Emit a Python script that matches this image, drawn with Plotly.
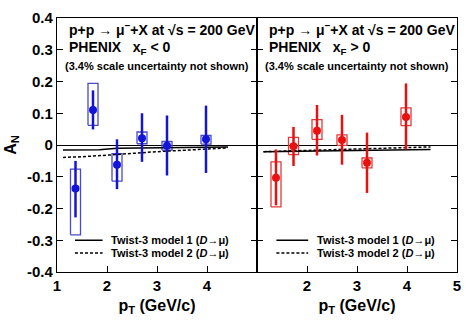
import plotly.graph_objects as go
from plotly.subplots import make_subplots

# ---- data: x_F < 0 (left panel) ----
pt_neg = [1.37, 1.72, 2.2, 2.7, 3.2, 3.98]
an_neg = [-0.137, 0.110, -0.062, 0.021, -0.002, 0.018]
stat_hi_neg = [-0.050, 0.172, 0.018, 0.100, 0.093, 0.124]
stat_lo_neg = [-0.228, 0.049, -0.139, -0.053, -0.096, -0.088]
sys_hi_neg = [-0.076, 0.194, -0.027, 0.041, 0.011, 0.030]
sys_lo_neg = [-0.283, 0.062, -0.114, 0.004, -0.016, 0.003]

# ---- data: x_F > 0 (right panel) ----
pt_pos = [1.38, 1.73, 2.2, 2.7, 3.2, 3.98]
an_pos = [-0.103, -0.004, 0.045, 0.016, -0.056, 0.088]
stat_hi_pos = [-0.014, 0.057, 0.126, 0.095, 0.039, 0.194]
stat_lo_pos = [-0.190, -0.066, -0.033, -0.062, -0.151, -0.014]
sys_hi_pos = [-0.053, 0.024, 0.080, 0.032, -0.041, 0.117]
sys_lo_pos = [-0.195, -0.030, 0.018, -0.001, -0.072, 0.061]

sys_halfwidth = 0.1

# ---- twist-3 model curves ----
m1_neg_x = [1.12, 1.5, 1.85, 2.2, 3.0, 3.7, 4.42]
m1_neg_y = [-0.016, -0.016, -0.015, -0.010, -0.008, -0.007, -0.006]
m2_neg_x = [1.12, 1.5, 2.0, 2.5, 3.0, 3.5, 4.0, 4.42]
m2_neg_y = [-0.039, -0.037, -0.032, -0.026, -0.021, -0.017, -0.013, -0.009]
m1_pos_x = [1.13, 2.0, 3.0, 4.0, 4.47]
m1_pos_y = [-0.021, -0.019, -0.017, -0.015, -0.014]
m2_pos_x = [1.13, 2.0, 3.0, 4.0, 4.47]
m2_pos_y = [-0.021, -0.017, -0.012, -0.008, -0.006]

y_ticks = [-0.4, -0.3, -0.2, -0.1, 0, 0.1, 0.2, 0.3, 0.4]
y_ticktext = ["-0.4", "-0.3", "-0.2", "-0.1", "0", "0.1", "0.2", "0.3", "0.4"]
x_ticks_left = [1, 2, 3, 4]
x_ticks_right = [2, 3, 4, 5]

FONT = "Liberation Sans, Arial, sans-serif"

fig = make_subplots(rows=1, cols=2, shared_yaxes=True, horizontal_spacing=0)


def box_path(xs, lo, hi, hw):
    px, py = [], []
    for x, l, h in zip(xs, lo, hi):
        px += [x - hw, x + hw, x + hw, x - hw, x - hw, None]
        py += [l, l, h, h, l, None]
    return px, py


def add_panel(col, xs, ys, shi, slo, yhi, ylo, m1x, m1y, m2x, m2y, color, boxcolor):
    bx, by = box_path(xs, ylo, yhi, sys_halfwidth)
    fig.add_trace(go.Scatter(x=bx, y=by, mode="lines",
                             line=dict(color=boxcolor, width=1.3),
                             showlegend=False, hoverinfo="skip"), row=1, col=col)
    fig.add_trace(go.Scatter(x=m1x, y=m1y, mode="lines",
                             line=dict(color="black", width=1.5),
                             showlegend=False), row=1, col=col)
    fig.add_trace(go.Scatter(x=m2x, y=m2y, mode="lines",
                             line=dict(color="black", width=1.5, dash="3px,2px"),
                             showlegend=False), row=1, col=col)
    fig.add_trace(go.Scatter(
        x=xs, y=ys, mode="markers",
        marker=dict(color=color, size=8),
        error_y=dict(type="data", symmetric=False,
                     array=[h - y for h, y in zip(shi, ys)],
                     arrayminus=[y - l for l, y in zip(slo, ys)],
                     color=color, thickness=2.5, width=0),
        showlegend=False), row=1, col=col)


add_panel(1, pt_neg, an_neg, stat_hi_neg, stat_lo_neg, sys_hi_neg, sys_lo_neg,
          m1_neg_x, m1_neg_y, m2_neg_x, m2_neg_y, "#1414d8", "#4a4ac8")
add_panel(2, pt_pos, an_pos, stat_hi_pos, stat_lo_pos, sys_hi_pos, sys_lo_pos,
          m1_pos_x, m1_pos_y, m2_pos_x, m2_pos_y, "#e81010", "#e03a3a")

axis_common = dict(showline=True, linecolor="black", linewidth=1.2, mirror="ticks",
                   ticks="inside", ticklen=6, tickcolor="black", tickwidth=1.2,
                   showgrid=False, zeroline=False,
                   tickfont=dict(family=FONT, size=15, color="black", weight="bold"))

fig.update_xaxes(**axis_common)
fig.update_xaxes(mirror=True)
fig.update_yaxes(**axis_common)
fig.update_yaxes(range=[-0.4, 0.4], tickvals=y_ticks, ticktext=y_ticktext,
                 zeroline=True, zerolinecolor="black", zerolinewidth=1.2)

xtitle = dict(text="<b>p<sub>T</sub> (GeV/c)</b>", font=dict(family=FONT, size=16, color="black"),
              standoff=6)
fig.update_xaxes(range=[1, 5], tickvals=x_ticks_left, title=xtitle, row=1, col=1)
fig.update_xaxes(range=[1, 5], tickvals=x_ticks_right, title=xtitle, row=1, col=2)
fig.update_yaxes(title=dict(text="<b>A<sub>N</sub></b>", font=dict(family=FONT, size=16, color="black"),
                 standoff=6), row=1, col=1)

annos = []
for xref, xf in (("x domain", "x<sub>F</sub> < 0"), ("x2 domain", "x<sub>F</sub> > 0")):
    yref = "y domain" if xref == "x domain" else "y2 domain"
    annos.append(dict(xref=xref, yref=yref, x=0.05, y=0.955, xanchor="left", yanchor="middle",
                      text="<b>p+p → μ<sup>−</sup>+X at √s = 200 GeV</b>", showarrow=False,
                      font=dict(family=FONT, size=14, color="black")))
    annos.append(dict(xref=xref, yref=yref, x=0.05, y=0.88, xanchor="left", yanchor="middle",
                      text="<b>PHENIX   " + xf + "</b>", showarrow=False,
                      font=dict(family=FONT, size=14, color="black")))
    annos.append(dict(xref=xref, yref=yref, x=0.03, y=0.81, xanchor="left", yanchor="middle",
                      text="<b>(3.4% scale uncertainty not shown)</b>", showarrow=False,
                      font=dict(family=FONT, size=11, color="black")))

legend_labels = ["<b>Twist-3 model 1 (<i>D</i>→μ)</b>", "<b>Twist-3 model 2 (<i>D</i>→μ)</b>"]
legend_y = [-0.30, -0.34]
shapes = []
for xref, yref, x0, x1, xt in (("x domain", "y", 0.09, 0.228, 0.262),
                               ("x2 domain", "y2", 0.097, 0.256, 0.29)):
    for lab, ly, dash in zip(legend_labels, legend_y, ("solid", "3px,2px")):
        shapes.append(dict(type="line", xref=xref, yref=yref, x0=x0, x1=x1, y0=ly, y1=ly,
                           line=dict(color="black", width=1.5, dash=dash)))
        annos.append(dict(xref=xref, yref=yref, x=xt, y=ly, xanchor="left", yanchor="middle",
                          text=lab, showarrow=False,
                          font=dict(family=FONT, size=11, color="black")))

fig.update_layout(width=470, height=326, margin=dict(l=57, r=9, t=12, b=54),
                  paper_bgcolor="white", plot_bgcolor="white",
                  annotations=annos, shapes=shapes, showlegend=False)

fig.write_html("out.html")
